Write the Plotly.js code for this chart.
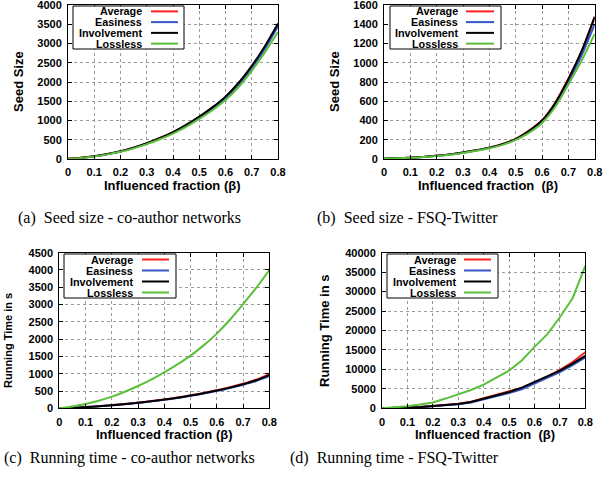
<!DOCTYPE html>
<html>
<head>
<meta charset="utf-8">
<script src="https://cdn.plot.ly/plotly-3.0.1.min.js"></script>
<style>html,body{margin:0;padding:0;background:#fff;}#chart{width:604px;height:482px;}</style>
</head>
<body>
<div id="chart"></div>
<script>
// ---------------- data ----------------
const beta = [0, 0.05, 0.1, 0.15, 0.2, 0.25, 0.3, 0.35, 0.4, 0.45, 0.5, 0.55, 0.6, 0.65, 0.7, 0.75, 0.8];
const seriesNames = ['Average', 'Easiness', 'Involvement', 'Lossless'];

// (a) Seed size - co-author networks
const aAverage     = [5, 30, 70, 127, 198, 292, 405, 538, 692, 875, 1088, 1325, 1600, 1955, 2390, 2895, 3490];
const aEasiness    = [5, 29, 68, 125, 195, 288, 400, 530, 682, 862, 1072, 1305, 1578, 1928, 2360, 2860, 3450];
const aInvolvement = [5, 30, 70, 128, 200, 295, 410, 545, 700, 885, 1100, 1340, 1620, 1980, 2420, 2930, 3520];
const aLossless    = [4, 27, 65, 120, 186, 276, 385, 512, 660, 835, 1040, 1265, 1530, 1870, 2290, 2770, 3300];

// (b) Seed size - FSQ-Twitter
const bAverage     = [3, 8, 14, 22, 33, 48, 67, 90, 118, 156, 210, 292, 402, 585, 835, 1115, 1470];
const bEasiness    = [3, 8, 14, 22, 33, 47, 66, 89, 116, 152, 203, 283, 390, 560, 800, 1075, 1400];
const bInvolvement = [3, 8, 14, 22, 33, 48, 67, 90, 118, 155, 207, 290, 400, 580, 830, 1120, 1480];
const bLossless    = [3, 7, 13, 21, 31, 45, 63, 85, 112, 147, 198, 272, 375, 540, 775, 1020, 1300];

// (c) Running time - co-author networks
const cAverage     = [0, 15, 35, 60, 92, 125, 163, 208, 258, 312, 375, 445, 522, 610, 710, 830, 990];
const cEasiness    = [0, 14, 33, 57, 88, 120, 157, 200, 248, 300, 360, 428, 500, 585, 680, 790, 930];
const cInvolvement = [0, 15, 34, 59, 90, 123, 160, 204, 253, 306, 368, 436, 512, 598, 697, 810, 960];
const cLossless    = [0, 55, 125, 220, 337, 480, 645, 830, 1040, 1270, 1525, 1820, 2160, 2560, 3010, 3480, 4000];

// (d) Running time - FSQ-Twitter
const dAverage     = [0, 70, 180, 340, 600, 870, 1180, 1700, 2550, 3350, 4300, 5250, 6600, 8100, 9900, 11900, 14400];
const dEasiness    = [0, 55, 150, 290, 520, 760, 1020, 1480, 2250, 2950, 3900, 4900, 6300, 7700, 9300, 11100, 13100];
const dInvolvement = [0, 60, 160, 310, 560, 820, 1100, 1600, 2400, 3200, 4200, 5300, 6800, 8100, 9700, 11500, 13500];
const dLossless    = [0, 250, 550, 950, 1500, 2500, 3600, 4700, 6100, 7800, 9700, 12300, 15800, 19000, 23400, 28300, 36600];

const xTitleA = 'Influenced fraction (β)';
const xTitleB = 'Influenced fraction\u00a0\u00a0(β)';
const yTitleSeed = 'Seed Size';
const yTitleTime = 'Running Time in s';
const captions = ['(a)\u00a0\u00a0Seed size - co-author networks', '(b)\u00a0\u00a0Seed size - FSQ-Twitter',
                  '(c)\u00a0\u00a0Running time - co-author networks', '(d)\u00a0\u00a0Running time - FSQ-Twitter'];

// ---------------- styling / layout ----------------
const W = 604, H = 482;
const colors = ['#ff2020', '#3556c4', '#000000', '#5cbf3a'];
const sans = 'Liberation Sans, Arial, sans-serif';
const serif = 'Liberation Serif, Times New Roman, serif';

const panels = [
  {l: 68, r: 278, t: 5, b: 159, ymax: 4000, dy: 500, data: [aAverage, aEasiness, aInvolvement, aLossless], shape: 'spline',
   xt: xTitleA, xtx: 172, xty: 186, yt: yTitleSeed, ytx: 18, yty: 82, ytsize: 13,
   leg: {l: 73, r: 184, t: 6, b: 49, tx: 144, l1: 151, l2: 178}, cap: captions[0], capx: 16, capy: 218},
  {l: 384, r: 594.7, t: 5, b: 159, ymax: 1600, dy: 200, data: [bAverage, bEasiness, bInvolvement, bLossless], shape: 'spline',
   xt: xTitleB, xtx: 488, xty: 186, yt: yTitleSeed, ytx: 334, yty: 82, ytsize: 13,
   leg: {l: 390, r: 501, t: 6, b: 49, tx: 460, l1: 466, l2: 494}, cap: captions[1], capx: 315, capy: 218},
  {l: 59.3, r: 269.3, t: 252.7, b: 408.3, ymax: 4500, dy: 500, data: [cAverage, cEasiness, cInvolvement, cLossless], shape: 'spline',
   xt: xTitleA, xtx: 164, xty: 434, yt: yTitleTime, ytx: 8, yty: 341, ytsize: 11,
   leg: {l: 64, r: 176, t: 254, b: 298, tx: 135, l1: 142, l2: 169}, cap: captions[2], capx: 2, capy: 458},
  {l: 382, r: 585.3, t: 252.7, b: 408.3, ymax: 40000, dy: 5000, data: [dAverage, dEasiness, dInvolvement, dLossless], shape: 'linear',
   xt: xTitleB, xtx: 485, xty: 434, yt: yTitleTime, ytx: 324, yty: 331, ytsize: 13,
   leg: {l: 387, r: 498, t: 254, b: 298, tx: 458, l1: 464, l2: 491}, cap: captions[3], capx: 288, capy: 458}
];

const traces = [];
const layout = {
  width: W, height: H, margin: {l: 0, r: 0, t: 0, b: 0},
  paper_bgcolor: '#fff', plot_bgcolor: '#fff', showlegend: false,
  annotations: [], shapes: []
};
const px = v => v / W, py = v => 1 - v / H;

function axisBase() {
  return {
    showline: true, mirror: 'ticks', linecolor: '#000', linewidth: 1,
    ticks: 'inside', ticklen: 4, tickcolor: '#000', tickwidth: 1,
    showgrid: true, gridcolor: '#9a9a9a', griddash: 'dot', gridwidth: 1,
    zeroline: false, fixedrange: true, ticklabeloverflow: 'allow',
    tickfont: {family: sans, size: 11, weight: 'bold', color: '#000'}
  };
}

panels.forEach((p, i) => {
  const n = i === 0 ? '' : String(i + 1);
  const xa = 'xaxis' + n, ya = 'yaxis' + n;
  layout[xa] = Object.assign(axisBase(), {domain: [px(p.l), px(p.r)], range: [0, 0.80001], dtick: 0.1, tick0: 0,
    anchor: 'y' + n, ticklabelstandoff: 3});
  layout[ya] = Object.assign(axisBase(), {domain: [py(p.b), py(p.t)], range: [0, p.ymax * 1.00001], dtick: p.dy, tick0: 0,
    tickformat: 'd', anchor: 'x' + n, ticklabelstandoff: 3});
  p.data.forEach((vals, k) => {
    const line = {color: colors[k], width: 2, shape: p.shape};
    if (p.shape === 'spline') line.smoothing = 0.8;
    traces.push({x: beta, y: vals, xaxis: 'x' + n, yaxis: 'y' + n, type: 'scatter', mode: 'lines',
      line: line, name: seriesNames[k], hoverinfo: 'skip'});
  });
  // axis titles
  layout.annotations.push({xref: 'paper', yref: 'paper', x: px(p.xtx), y: py(p.xty), text: p.xt, showarrow: false,
    xanchor: 'center', yanchor: 'middle', font: {family: sans, size: 13, weight: 'bold', color: '#000'}});
  layout.annotations.push({xref: 'paper', yref: 'paper', x: px(p.ytx), y: py(p.yty), text: p.yt, showarrow: false,
    textangle: -90, xanchor: 'center', yanchor: 'middle', font: {family: sans, size: p.ytsize, weight: 'bold', color: '#000'}});
  // caption
  layout.annotations.push({xref: 'paper', yref: 'paper', x: px(p.capx), y: py(p.capy), text: p.cap, showarrow: false,
    xanchor: 'left', yanchor: 'middle', font: {family: serif, size: 16, color: '#000'}});
  // legend box
  const g = p.leg;
  layout.shapes.push({type: 'rect', xref: 'paper', yref: 'paper', x0: px(g.l), x1: px(g.r), y0: py(g.b), y1: py(g.t),
    line: {color: '#000', width: 1}, fillcolor: '#fff', layer: 'above'});
  const rowH = (g.b - g.t) / 4;
  seriesNames.forEach((nm, k) => {
    const yc = g.t + rowH * (k + 0.5);
    layout.annotations.push({xref: 'paper', yref: 'paper', x: px(g.tx), y: py(yc), text: nm, showarrow: false,
      xanchor: 'right', yanchor: 'middle', font: {family: sans, size: 10.8, weight: 'bold', color: '#000'}});
    layout.shapes.push({type: 'line', xref: 'paper', yref: 'paper', x0: px(g.l1), x1: px(g.l2), y0: py(yc), y1: py(yc),
      line: {color: colors[k], width: 2}, layer: 'above'});
  });
});

Plotly.newPlot('chart', traces, layout, {staticPlot: true, displayModeBar: false});
</script>
</body>
</html>
